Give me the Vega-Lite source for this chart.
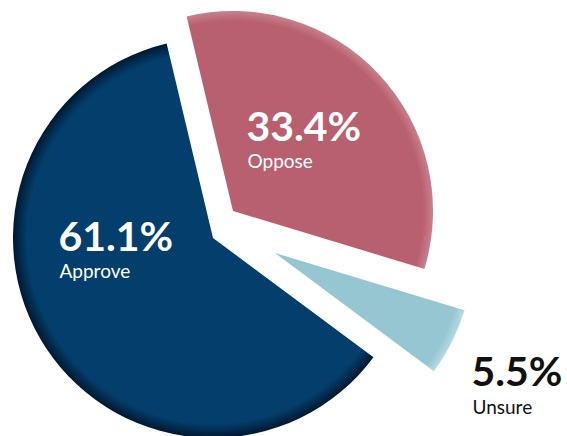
{
  "$schema": "https://vega.github.io/schema/vega-lite/v6.json",
  "width": 567,
  "height": 436,
  "autosize": {"type": "fit", "contains": "padding"},
  "padding": 0,
  "background": "white",
  "config": {"view": {"stroke": null}},
  "data": {"values": [
    {"answer": "Oppose", "share": 0.334},
    {"answer": "Unsure", "share": 0.055},
    {"answer": "Approve", "share": 0.611}
  ]},
  "transform": [{"stack": "share", "groupby": [], "as": ["s0", "s1"]}],
  "layer": [
    {
      "transform": [{"filter": "datum.answer === 'Approve'"}],
      "mark": {"type": "arc", "radius": 200, "xOffset": -70.5, "yOffset": 22,
        "fill": {"gradient": "radial", "x1": 0.55, "y1": 0.493, "r1": 0, "x2": 0.55, "y2": 0.493, "r2": 0.507,
          "stops": [{"offset": 0, "color": "#033E6C"}, {"offset": 0.93, "color": "#033E6C"}, {"offset": 1, "color": "#00182F"}]}},
      "encoding": {
        "theta": {"field": "s0", "type": "quantitative", "scale": {"domain": [0, 1], "range": [-0.2339, 6.0493]}},
        "theta2": {"field": "s1"}
      }
    },
    {
      "transform": [{"filter": "datum.answer === 'Oppose'"}],
      "mark": {"type": "arc", "radius": 200, "xOffset": -50.5, "yOffset": -5,
        "fill": {"gradient": "radial", "x1": 0.202, "y1": 0.776, "r1": 0, "x2": 0.202, "y2": 0.776, "r2": 0.776,
          "stops": [{"offset": 0, "color": "#B96070"}, {"offset": 0.95, "color": "#B96070"}, {"offset": 1, "color": "#C8808C"}]}},
      "encoding": {
        "theta": {"field": "s0", "type": "quantitative", "scale": {"domain": [0, 1], "range": [-0.2339, 6.0493]}},
        "theta2": {"field": "s1"}
      }
    },
    {
      "transform": [{"filter": "datum.answer === 'Unsure'"}],
      "mark": {"type": "arc", "radius": 198, "xOffset": -8.5, "yOffset": 37,
        "fill": {"gradient": "radial", "x1": 0.0, "y1": 0.189, "r1": 0, "x2": 0.0, "y2": 0.189, "r2": 1.044,
          "stops": [{"offset": 0, "color": "#96C6D2"}, {"offset": 0.95, "color": "#96C6D2"}, {"offset": 1, "color": "#B4DAE3"}]}},
      "encoding": {
        "theta": {"field": "s0", "type": "quantitative", "scale": {"domain": [0, 1], "range": [-0.2339, 6.0493]}},
        "theta2": {"field": "s1"}
      }
    },
    {
      "transform": [{"filter": "datum.answer === 'Approve'"}],
      "mark": {"type": "text", "font": "Lato", "fontWeight": "bold", "fontSize": 41, "align": "left", "baseline": "alphabetic", "dx": -225, "dy": 35, "color": "white"},
      "encoding": {"text": {"field": "share", "type": "quantitative", "format": ".1%"}}
    },
    {
      "transform": [{"filter": "datum.answer === 'Approve'"}],
      "mark": {"type": "text", "font": "Lato", "fontSize": 19, "align": "left", "baseline": "alphabetic", "dx": -224, "dy": 62, "color": "white"},
      "encoding": {"text": {"field": "answer", "type": "nominal"}}
    },
    {
      "transform": [{"filter": "datum.answer === 'Oppose'"}],
      "mark": {"type": "text", "font": "Lato", "fontWeight": "bold", "fontSize": 41, "align": "left", "baseline": "alphabetic", "dx": -37, "dy": -75, "color": "white"},
      "encoding": {"text": {"field": "share", "type": "quantitative", "format": ".1%"}}
    },
    {
      "transform": [{"filter": "datum.answer === 'Oppose'"}],
      "mark": {"type": "text", "font": "Lato", "fontSize": 19, "align": "left", "baseline": "alphabetic", "dx": -36, "dy": -48, "color": "white"},
      "encoding": {"text": {"field": "answer", "type": "nominal"}}
    },
    {
      "transform": [{"filter": "datum.answer === 'Unsure'"}],
      "mark": {"type": "text", "font": "Lato", "fontWeight": "bold", "fontSize": 41, "align": "left", "baseline": "alphabetic", "dx": 188, "dy": 170, "color": "#111111"},
      "encoding": {"text": {"field": "share", "type": "quantitative", "format": ".1%"}}
    },
    {
      "transform": [{"filter": "datum.answer === 'Unsure'"}],
      "mark": {"type": "text", "font": "Lato", "fontSize": 19, "align": "left", "baseline": "alphabetic", "dx": 189, "dy": 198, "color": "#111111"},
      "encoding": {"text": {"field": "answer", "type": "nominal"}}
    }
  ]
}
